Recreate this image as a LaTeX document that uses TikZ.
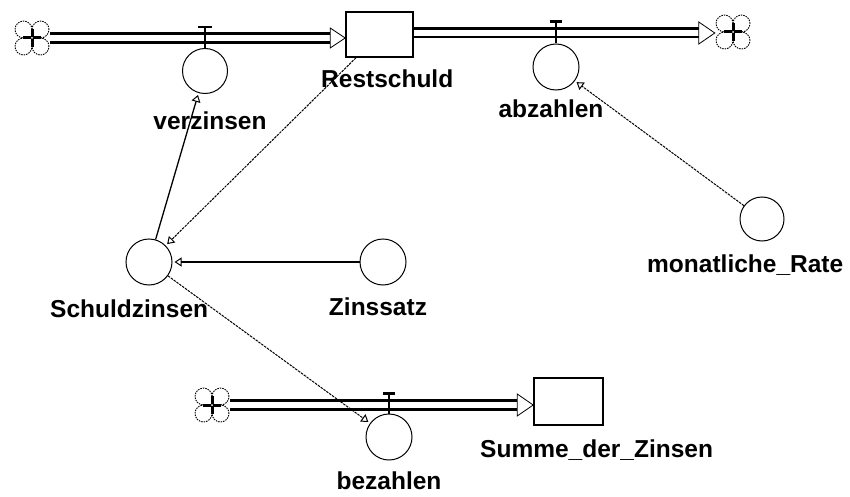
\documentclass[tikz,border=0pt]{standalone}
\usepackage{fontspec}
\setmainfont{Liberation Sans}
\usetikzlibrary{arrows.meta,calc}
\begin{document}
\begin{tikzpicture}[x=1pt,y=-1pt,
  aux/.style={circle, draw, line width=1pt, minimum size=46pt, inner sep=0pt},
  stock/.style={rectangle, draw, line width=1.6pt, inner sep=0pt},
  cloudnode/.style={circle, minimum size=36pt, inner sep=0pt},
  lbl/.style={font=\fontsize{24.5}{28}\selectfont\bfseries, inner sep=0pt},
  pipe/.style={line width=2.6pt},
  valve/.style={line width=2.5pt},
  flowhead/.style={line width=0.8pt, fill=white},
  info/.style={line width=1pt, dash pattern=on 2.5pt off 1pt, shorten >=2pt,
    -{Triangle[open,length=7pt,width=9pt,line width=1pt]}},
  link/.style={line width=1.3pt, shorten >=2pt,
    -{Triangle[open,length=7pt,width=9pt,line width=1pt]}},
  cloudpic/.pic={
    \foreach \dx/\dy in {-8.5/-8.5, 8.5/-8.5, -8.5/8.5, 8.5/8.5}
      \draw[line width=0.9pt, dash pattern=on 1.5pt off 1pt] (\dx,\dy) circle[radius=8.5pt];
    \fill[white] (-8,-8) rectangle (8,8);
    \draw[line width=3pt] (-9,0) -- (9,0) (0,-9) -- (0,9);
    \fill[white] (0,0) circle[radius=1pt];
  }
]
\useasboundingbox (0,0) rectangle (850,497);
\fill[white] (0,0) rectangle (850,497);

% stocks
\node[stock, minimum width=67pt, minimum height=45pt] (R) at (379.5,34.5) {};
\node[stock, minimum width=69pt, minimum height=47pt] (SZ) at (568.5,401.5) {};

% clouds
\node[cloudnode] (c1) at (32,38) {};
\pic at (c1) {cloudpic};
\node[cloudnode] (c2) at (733,32) {};
\pic at (c2) {cloudpic};
\node[cloudnode] (c3) at (212,405) {};
\pic at (c3) {cloudpic};

% converters / valves
\node[aux, minimum size=45pt] (V) at (205,71) {};
\node[aux] (A) at (556,67) {};
\node[aux] (B) at (389,437) {};
\node[aux] (S) at (149,262) {};
\node[aux] (Zi) at (383,262) {};
\node[aux, minimum size=44pt] (M) at (762,219) {};

% coordinates of flow arrow tips
\coordinate (t1) at (R.west |- c1);
\coordinate (t2) at (c2.west |- 0,33);
\coordinate (t3) at (SZ.west |- c3);
\coordinate (r1) at (R.east |- 0,33);

% pipes
\draw[pipe] ($(c1.east)+(0,-4.7)$) -- ($(t1)+(-13,-4.7)$);
\draw[pipe] ($(c1.east)+(0,4.7)$) -- ($(t1)+(-13,4.7)$);
\draw[flowhead] ($(t1)+(-15,-10)$) -- (t1) -- ($(t1)+(-15,10)$) -- cycle;

\draw[pipe] ($(r1)+(0,-4.2)$) -- ($(t2)+(-14,-4.2)$);
\draw[pipe] ($(r1)+(0,4.2)$) -- ($(t2)+(-14,4.2)$);
\draw[flowhead] ($(t2)+(-16,-11)$) -- (t2) -- ($(t2)+(-16,11)$) -- cycle;

\draw[pipe] ($(c3.east)+(0,-4.5)$) -- ($(t3)+(-14,-4.5)$);
\draw[pipe] ($(c3.east)+(0,4.5)$) -- ($(t3)+(-14,4.5)$);
\draw[flowhead] ($(t3)+(-16,-11)$) -- (t3) -- ($(t3)+(-16,11)$) -- cycle;

% valve stems
\draw[valve] (V.north) -- ++(0,-21);
\draw[valve] ($(V.north)+(-7,-21)$) -- ++(14,0);
\draw[valve] (A.north) -- ++(0,-22);
\draw[valve] ($(A.north)+(-6,-22)$) -- ++(12,0);
\draw[valve] (B.north) -- ++(0,-20);
\draw[valve] ($(B.north)+(-6,-20)$) -- ++(12,0);

% connectors
\draw[link, line width=2.2pt] (Zi) -- (S);
\draw[link] (S) -- (V);
\draw[info] (R) -- (S);
\draw[info] (M) -- (A);
\draw[info] (S) -- (B);

% labels
\node[lbl, anchor=base west] (lR) at (321,88) {Restschuld};
\node[lbl, anchor=base] (lV) at (210,130) {verzinsen};
\node[lbl, anchor=base] (lA) at (551,118) {abzahlen};
\node[lbl, anchor=base west] (lM) at (647,272) {monatliche\_Rate};
\node[lbl, anchor=base west] (lS) at (50,317) {Schuldzinsen};
\node[lbl, anchor=base] (lZ) at (378,315) {Zinssatz};
\node[lbl, anchor=base west] (lSZ) at (480,457) {Summe\_der\_Zinsen};
\node[lbl, anchor=base] (lB) at (389,489) {bezahlen};
\end{tikzpicture}
\end{document}
